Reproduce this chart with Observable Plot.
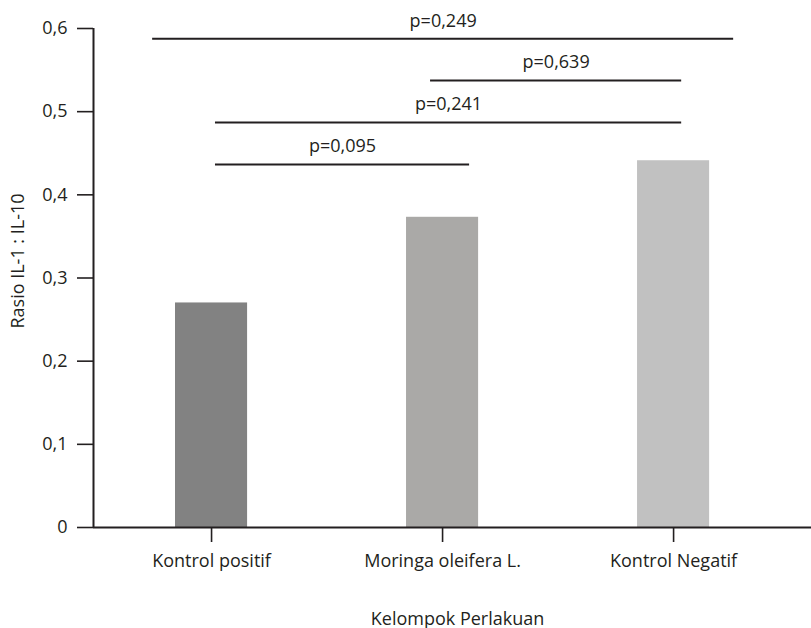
<!DOCTYPE html>
<html>
<head>
<meta charset="utf-8">
<script src="https://cdn.jsdelivr.net/npm/d3@7"></script>
<script src="https://cdn.jsdelivr.net/npm/@observablehq/plot@0.6"></script>
<style>
  html, body { margin: 0; padding: 0; background: #fff; }
  #chart svg { display: block; }
</style>
</head>
<body>
<div id="chart"></div>
<script>
// Data
const categories = ["Kontrol positif", "Moringa oleifera L.", "Kontrol Negatif"];
const values = [0.27, 0.373, 0.441];
const barColors = ["#828282", "#aaa9a7", "#c1c1c1"];
const yTicks = [0, 0.1, 0.2, 0.3, 0.4, 0.5, 0.6];
// comparison brackets: from/to in category-index units, y in data units
const bracketLabels = ["p=0,249", "p=0,639", "p=0,241", "p=0,095"];
const bracketFrom = [-0.255, 0.948, 0.017, 0.017];
const bracketTo = [2.26, 2.035, 2.035, 1.117];
const bracketY = [0.5876, 0.5375, 0.487, 0.4365];

const bars = categories.map((c, i) => ({i, name: c, value: values[i], fill: barColors[i]}));
const brackets = bracketLabels.map((l, i) => ({label: l, from: bracketFrom[i], to: bracketTo[i], y: bracketY[i]}));

const ink = "#231f20";
const font = "'Open Sans', sans-serif";
const fs = 18;
const halfBar = 0.156;
const xDomain = [-0.511, 2.597];
const fmt = d => d === 0 ? "0" : d.toFixed(1).replace(".", ",");

const chart = Plot.plot({
  width: 811,
  height: 628,
  marginLeft: 93,
  marginRight: 0,
  marginTop: 28,
  marginBottom: 101,
  style: {fontFamily: font, fontSize: fs + "px", color: ink, background: "#fff"},
  x: {type: "linear", domain: xDomain, axis: null},
  y: {domain: [0, 0.6], axis: null},
  marks: [
    Plot.rectY(bars, {x1: d => d.i - halfBar, x2: d => d.i + halfBar, y: "value", fill: "fill"}),
    Plot.ruleY([0], {stroke: ink, strokeWidth: 2}),
    Plot.ruleX([xDomain[0]], {y1: 0, y2: 0.6, stroke: ink, strokeWidth: 2}),
    Plot.axisY({ticks: yTicks, tickFormat: fmt, tickSize: 16, tickPadding: 10, fontSize: fs, stroke: ink, fill: ink, strokeWidth: 1.6, label: null}),
    Plot.axisX({ticks: [0, 1, 2], tickFormat: i => categories[i], tickSize: 15, tickPadding: 12, fontSize: fs, stroke: ink, fill: ink, strokeWidth: 1.6, label: null}),
    Plot.ruleY(brackets, {x1: "from", x2: "to", y: "y", stroke: ink, strokeWidth: 2}),
    Plot.text(brackets, {x: d => (d.from + d.to) / 2, y: "y", text: "label", dy: -12, lineAnchor: "bottom", fill: ink, fontSize: fs}),
    Plot.text(["Rasio IL-1 : IL-10"], {frameAnchor: "left", textAnchor: "middle", rotate: -90, dx: -75, dy: -17, fill: ink, fontSize: fs}),
    Plot.text(["Kelompok Perlakuan"], {frameAnchor: "bottom", dx: 5, dy: 97, lineAnchor: "bottom", fill: ink, fontSize: fs})
  ]
});
document.getElementById("chart").appendChild(chart);
</script>
</body>
</html>
